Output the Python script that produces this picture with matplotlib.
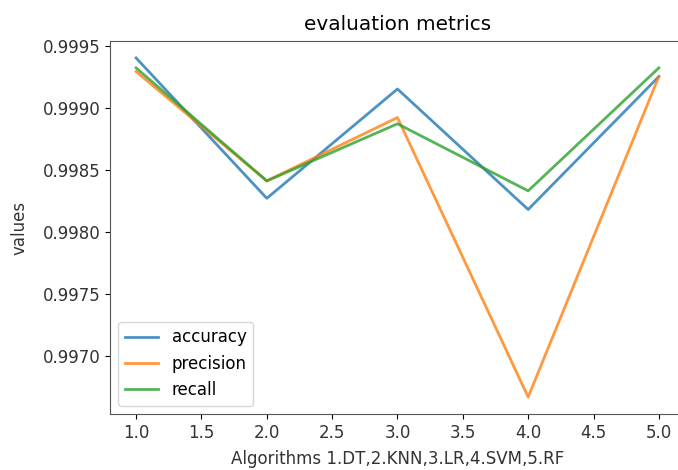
import matplotlib
matplotlib.use("Agg")
import matplotlib.pyplot as plt

algos = [1, 2, 3, 4, 5]
accuracy = [0.99940, 0.99827, 0.99915, 0.99818, 0.99925]
precision = [0.99929, 0.99841, 0.99892, 0.99667, 0.99925]
recall = [0.99932, 0.99841, 0.99887, 0.99833, 0.99932]

plt.rcParams['font.size'] = 12

fig = plt.figure(figsize=(6.78, 4.70), dpi=100)
ax = fig.add_axes([0.1622, 0.1191, 0.8481, 0.7937])

ax.plot(algos, accuracy, label="accuracy", lw=2, alpha=0.8)
ax.plot(algos, precision, label="precision", lw=2, alpha=0.8)
ax.plot(algos, recall, label="recall", lw=2, alpha=0.8)

ax.set_title("evaluation metrics", pad=8)
ax.set_xlabel("Algorithms 1.DT,2.KNN,3.LR,4.SVM,5.RF", labelpad=6, color="#333333")
ax.set_ylabel("values", labelpad=10, color="#333333")
ax.ticklabel_format(axis="y", useOffset=False)
ax.tick_params(labelcolor="#333333")
for s in ax.spines.values():
    s.set_color("#555555")
ax.legend(loc="lower left")

fig.savefig("out.png", dpi=100)
